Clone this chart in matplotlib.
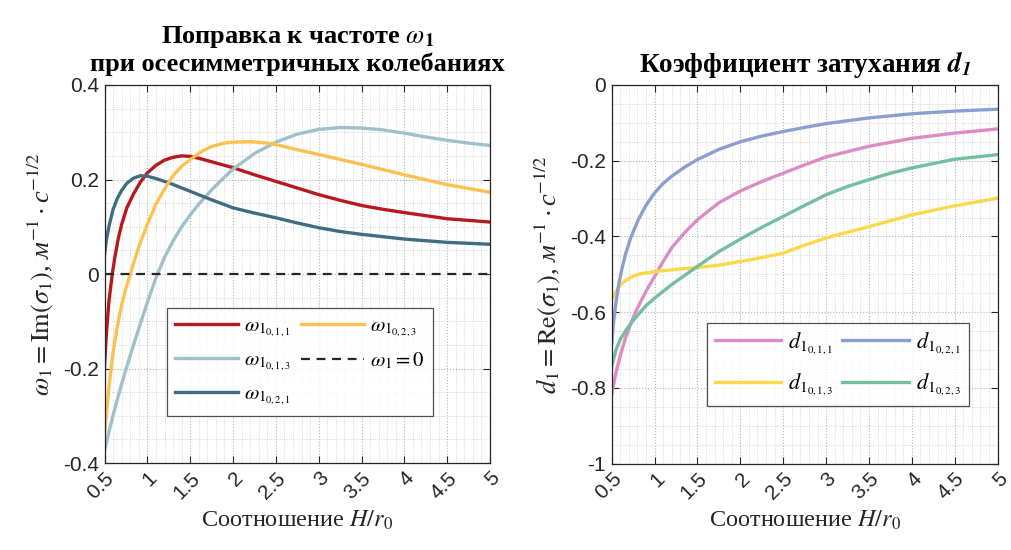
import matplotlib
matplotlib.use("Agg")
import matplotlib.pyplot as plt
from matplotlib.ticker import MultipleLocator, FuncFormatter

plt.rcParams['mathtext.fontset'] = 'stix'
plt.rcParams['font.family'] = ['Liberation Serif', 'DejaVu Serif']

# --- frequency correction omega_1 (axisymmetric modes) ---
x_w011 = [0.5, 0.52, 0.55, 0.59, 0.62, 0.66, 0.7, 0.76, 0.84, 0.92, 1.0, 1.1, 1.2, 1.3, 1.4, 1.5, 1.62, 1.8, 2.0,
          2.25, 2.5, 2.75, 3.0, 3.25, 3.5, 3.75, 4.0, 4.5, 5.0]
w011 = [-0.196, -0.13, -0.06, 0.0, 0.035, 0.075, 0.105, 0.14, 0.17, 0.195, 0.214, 0.23, 0.241, 0.247, 0.25, 0.249,
        0.244, 0.235, 0.225, 0.21, 0.196, 0.182, 0.168, 0.156, 0.145, 0.137, 0.13, 0.117, 0.110]

x_w013 = [0.5, 0.55, 0.6, 0.7, 0.8, 0.9, 1.0, 1.1, 1.2, 1.3, 1.4, 1.5, 1.6, 1.75, 1.9, 2.0, 2.25, 2.5, 2.75, 3.0,
          3.25, 3.5, 3.75, 4.0, 4.25, 4.5, 4.75, 5.0]
w013 = [-0.374, -0.335, -0.298, -0.232, -0.172, -0.115, -0.06, -0.008, 0.035, 0.07, 0.1, 0.125, 0.148, 0.178, 0.205,
        0.222, 0.255, 0.279, 0.296, 0.306, 0.31, 0.309, 0.305, 0.298, 0.29, 0.283, 0.277, 0.272]

x_w021 = [0.5, 0.52, 0.55, 0.6, 0.65, 0.7, 0.76, 0.84, 0.92, 1.0, 1.1, 1.25, 1.5, 1.75, 2.0, 2.25, 2.5, 2.75, 3.0,
          3.25, 3.5, 4.0, 4.5, 5.0]
w021 = [0.04, 0.07, 0.1, 0.137, 0.16, 0.177, 0.192, 0.203, 0.208, 0.207, 0.202, 0.193, 0.175, 0.157, 0.14, 0.129,
        0.119, 0.108, 0.098, 0.09, 0.084, 0.074, 0.067, 0.063]

x_w023 = [0.5, 0.53, 0.56, 0.6, 0.65, 0.7, 0.75, 0.8, 0.9, 1.0, 1.1, 1.2, 1.3, 1.4, 1.5, 1.62, 1.75, 1.9, 2.0, 2.2,
          2.4, 2.5, 2.75, 3.0, 3.5, 4.0, 4.5, 5.0]
w023 = [-0.339, -0.28, -0.225, -0.165, -0.11, -0.065, -0.03, 0.0, 0.058, 0.105, 0.148, 0.18, 0.208, 0.228, 0.242,
        0.258, 0.27, 0.277, 0.279, 0.28, 0.277, 0.274, 0.263, 0.253, 0.232, 0.21, 0.189, 0.173]

# --- damping coefficient d_1 ---
x_d011 = [0.5, 0.55, 0.6, 0.66, 0.75, 0.81, 0.9, 1.0, 1.1, 1.2, 1.35, 1.5, 1.75, 2.0, 2.25, 2.5, 2.75, 3.0, 3.5,
          4.0, 4.5, 5.0]
d011 = [-0.818, -0.76, -0.715, -0.669, -0.615, -0.585, -0.545, -0.506, -0.466, -0.43, -0.39, -0.356, -0.311, -0.28,
        -0.255, -0.233, -0.211, -0.19, -0.162, -0.141, -0.127, -0.116]

x_d021 = [0.5, 0.52, 0.55, 0.58, 0.62, 0.66, 0.72, 0.81, 0.9, 1.0, 1.1, 1.2, 1.35, 1.5, 1.75, 2.0, 2.25, 2.5, 2.75,
          3.0, 3.5, 4.0, 4.5, 5.0]
d021 = [-0.686, -0.63, -0.575, -0.53, -0.485, -0.448, -0.405, -0.356, -0.318, -0.285, -0.26, -0.241, -0.217, -0.197,
        -0.17, -0.15, -0.135, -0.123, -0.112, -0.102, -0.087, -0.076, -0.069, -0.064]

x_d013 = [0.5, 0.55, 0.6, 0.66, 0.75, 0.85, 1.0, 1.2, 1.5, 1.78, 2.0, 2.25, 2.5, 2.75, 3.0, 3.5, 4.0, 4.5, 5.0]
d013 = [-0.566, -0.545, -0.528, -0.517, -0.505, -0.498, -0.493, -0.488, -0.482, -0.475, -0.466, -0.456, -0.444,
        -0.423, -0.404, -0.374, -0.343, -0.319, -0.299]

x_d023 = [0.5, 0.55, 0.6, 0.66, 0.75, 0.81, 0.9, 1.0, 1.1, 1.2, 1.35, 1.5, 1.75, 2.0, 2.25, 2.5, 2.75, 3.0, 3.25,
          3.5, 3.75, 4.0, 4.5, 5.0]
d023 = [-0.744, -0.70, -0.672, -0.65, -0.622, -0.606, -0.583, -0.563, -0.545, -0.527, -0.503, -0.479, -0.44, -0.407,
        -0.376, -0.347, -0.318, -0.29, -0.268, -0.25, -0.233, -0.219, -0.196, -0.184]

x_ticks = [0.5, 1, 1.5, 2, 2.5, 3, 3.5, 4, 4.5, 5]
lw = 2.4
ink = '#262626'


def fmt(v, _):
    v = round(v, 6)
    if abs(v) < 1e-9:
        return '0'
    return f"{v:g}"


def style_axes(ax, ylim, ymajor):
    ax.set_xlim(0.5, 5)
    ax.set_ylim(*ylim)
    ax.set_xticks(x_ticks)
    ax.xaxis.set_minor_locator(MultipleLocator(0.1))
    ax.yaxis.set_major_locator(MultipleLocator(ymajor))
    ax.yaxis.set_minor_locator(MultipleLocator(0.05))
    ax.xaxis.set_major_formatter(FuncFormatter(fmt))
    ax.yaxis.set_major_formatter(FuncFormatter(fmt))
    ax.tick_params(which='both', direction='in', top=True, right=True,
                   color=ink, labelcolor=ink, width=0.8)
    ax.tick_params(which='major', length=5, pad=4)
    ax.tick_params(which='minor', length=0)
    for lab in ax.get_xticklabels() + ax.get_yticklabels():
        lab.set_fontfamily('Liberation Sans')
        lab.set_fontsize(15)
    for lab in ax.get_xticklabels():
        lab.set_rotation(45)
        lab.set_ha('right')
        lab.set_va('top')
        lab.set_rotation_mode('anchor')
    ax.grid(True, which='major', linestyle=':', color='#b4b4b4', linewidth=0.8)
    ax.grid(True, which='minor', linestyle=':', color='#cdcdcd', linewidth=0.6)
    ax.set_axisbelow(True)
    for sp in ax.spines.values():
        sp.set_color(ink)
        sp.set_linewidth(0.9)
    ax.set_xlabel(r'Соотношение $H/r_{\mathit{0}}$', fontsize=17.5, color=ink, labelpad=4)


fig = plt.figure(figsize=(10.11, 5.5), dpi=100)
ax1 = fig.add_axes([0.1034, 0.158, 0.3813, 0.6875])
ax2 = fig.add_axes([0.605, 0.157, 0.3818, 0.6885])

# left panel
ax1.plot(x_w011, w011, color='#B8191E', lw=lw, label=r'$\omega_{1_{0,1,1}}$')
ax1.plot(x_w013, w013, color='#9FC1CC', lw=lw, label=r'$\omega_{1_{0,1,3}}$')
ax1.plot(x_w021, w021, color='#3E6E82', lw=lw, label=r'$\omega_{1_{0,2,1}}$')
ax1.plot(x_w023, w023, color='#FDC150', lw=lw, label=r'$\omega_{1_{0,2,3}}$')
ax1.axhline(0, color=ink, lw=1.6, ls=(0, (4, 3)), label=r'$\omega_1 = 0$')
style_axes(ax1, (-0.4, 0.4), 0.2)
ax1.set_title('Поправка к частоте ' + r'$\omega_{\mathbf{1}}$' + '\nпри осесимметричных колебаниях',
              fontsize=19, fontweight='bold', pad=10, linespacing=1.15)
ax1.set_ylabel(r'$\omega_1 = \mathrm{Im}(\sigma_1)$, м$^{-1}\cdot$с$^{-1/2}$',
               fontsize=19, fontstyle='italic', color=ink, labelpad=5)
leg1 = ax1.legend(ncol=2, loc='upper left', bbox_to_anchor=(0.162, 0.41),
                  fontsize=15, frameon=True, fancybox=False,
                  edgecolor=ink, handlelength=3.0, columnspacing=0.5,
                  borderaxespad=0, borderpad=0.4, labelspacing=0.55, handletextpad=0.3)
leg1.get_frame().set_linewidth(0.9)

# right panel
ax2.plot(x_d011, d011, color='#DE8CC4', lw=lw, label=r'$d_{1_{0,1,1}}$')
ax2.plot(x_d013, d013, color='#FBD94B', lw=lw, label=r'$d_{1_{0,1,3}}$')
ax2.plot(x_d021, d021, color='#8B9FD1', lw=lw, label=r'$d_{1_{0,2,1}}$')
ax2.plot(x_d023, d023, color='#74BF9D', lw=lw, label=r'$d_{1_{0,2,3}}$')
style_axes(ax2, (-1, 0), 0.2)
ax2.set_title(r'Коэффициент затухания $\mathbfit{d}_{\mathbfit{1}}$', fontsize=19.5, fontweight='bold', pad=9)
ax2.set_ylabel(r'$d_1 = \mathrm{Re}(\sigma_1)$, м$^{-1}\cdot$с$^{-1/2}$',
               fontsize=19, fontstyle='italic', color=ink, labelpad=5)
leg2 = ax2.legend(ncol=2, loc='upper left', bbox_to_anchor=(0.247, 0.372),
                  fontsize=16, frameon=True, fancybox=False,
                  edgecolor=ink, handlelength=3.0, columnspacing=0.4,
                  borderaxespad=0, borderpad=0.35, labelspacing=0.7, handletextpad=0.3)
leg2.get_frame().set_linewidth(0.9)

fig.savefig('out.png', dpi=100)
